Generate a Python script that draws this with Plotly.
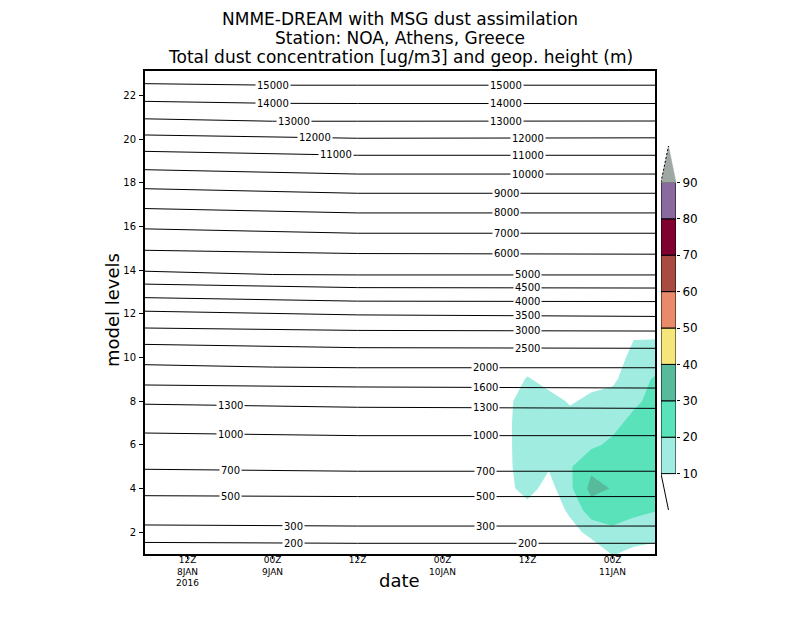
import numpy as np
import pandas as pd
import plotly.graph_objects as go

# time axis and model levels
x_range = ["2016-01-08 06:00", "2016-01-11 06:00"]
tick_times = ["2016-01-08 12:00", "2016-01-09 00:00", "2016-01-09 12:00",
              "2016-01-10 00:00", "2016-01-10 12:00", "2016-01-11 00:00"]
tick_text = ["12Z<br>8JAN<br>2016", "00Z<br>9JAN", "12Z",
             "00Z<br>10JAN", "12Z", "00Z<br>11JAN"]
level_ticks = list(range(2, 23, 2))

# total dust concentration (ug/m3): one profile (model levels 1..12) per time
dust_levels = list(range(1, 13))
dust_times = ["2016-01-10 06:00", "2016-01-10 09:00", "2016-01-10 12:00",
              "2016-01-10 15:00", "2016-01-10 18:00", "2016-01-10 21:00",
              "2016-01-11 00:00", "2016-01-11 03:00", "2016-01-11 06:00"]
dust_profiles = [
    [0, 0, 0, 1, 1, 1, 1, 1, 0, 0, 0, 0],
    [1, 2, 3, 7, 7, 7, 7, 7, 3, 1, 0, 0],
    [0, 2, 6, 14, 17, 18, 18, 16, 11, 3, 0, 0],
    [0, 1, 3, 6, 11, 15, 15, 14, 6, 2, 0, 0],
    [2, 6, 12, 18, 19, 17, 14, 9, 4, 1, 0, 0],
    [3, 13, 25, 33, 28, 18, 16, 12, 7, 2, 0, 0],
    [10.5, 17, 27, 29.5, 26, 22, 17, 14, 8, 3, 1, 0],
    [8, 14, 23, 27, 26, 24, 23, 18, 16, 14, 9, 2],
    [7, 13, 20.5, 25, 26, 25, 24, 23, 21, 15, 9, 2],
]

# geopotential height contours (m): model level where each one sits
hgt_values = [15000, 14000, 13000, 12000, 11000, 10000, 9000, 8000, 7000, 6000,
              5000, 4500, 4000, 3500, 3000, 2500, 2000, 1600, 1300, 1000,
              700, 500, 300, 200]
hgt_times = ["2016-01-08 06:00", "2016-01-09 00:00", "2016-01-09 12:00", "2016-01-11 06:00"]
hgt_levels = [
    [22.54, 22.47, 22.47, 22.47],
    [21.73, 21.64, 21.63, 21.63],
    [20.93, 20.82, 20.82, 20.83],
    [20.19, 20.08, 20.04, 20.06],
    [19.44, 19.32, 19.26, 19.26],
    [18.60, 18.47, 18.40, 18.40],
    [17.73, 17.60, 17.52, 17.52],
    [16.82, 16.70, 16.62, 16.62],
    [15.89, 15.77, 15.69, 15.69],
    [14.91, 14.83, 14.76, 14.73],
    [13.95, 13.80, 13.78, 13.78],
    [13.36, 13.28, 13.20, 13.18],
    [12.74, 12.66, 12.58, 12.56],
    [12.12, 12.02, 11.95, 11.88],
    [11.35, 11.28, 11.24, 11.21],
    [10.60, 10.49, 10.45, 10.42],
    [9.67, 9.56, 9.53, 9.53],
    [8.74, 8.69, 8.65, 8.60],
    [7.86, 7.78, 7.72, 7.67],
    [6.54, 6.47, 6.42, 6.42],
    [4.88, 4.82, 4.79, 4.79],
    [3.67, 3.63, 3.63, 3.63],
    [2.33, 2.28, 2.28, 2.28],
    [1.53, 1.49, 1.49, 1.49],
]
hgt_label_times = [
    ["2016-01-09 00:00", "2016-01-10 09:00"],
    ["2016-01-09 00:00", "2016-01-10 09:00"],
    ["2016-01-09 03:00", "2016-01-10 09:00"],
    ["2016-01-09 06:00", "2016-01-10 12:00"],
    ["2016-01-09 09:00", "2016-01-10 12:00"],
    ["2016-01-10 12:00"],
    ["2016-01-10 09:00"],
    ["2016-01-10 09:00"],
    ["2016-01-10 09:00"],
    ["2016-01-10 09:00"],
    ["2016-01-10 12:00"],
    ["2016-01-10 12:00"],
    ["2016-01-10 12:00"],
    ["2016-01-10 12:00"],
    ["2016-01-10 12:00"],
    ["2016-01-10 12:00"],
    ["2016-01-10 06:00"],
    ["2016-01-10 06:00"],
    ["2016-01-08 18:00", "2016-01-10 06:00"],
    ["2016-01-08 18:00", "2016-01-10 06:00"],
    ["2016-01-08 18:00", "2016-01-10 06:00"],
    ["2016-01-08 18:00", "2016-01-10 06:00"],
    ["2016-01-09 03:00", "2016-01-10 06:00"],
    ["2016-01-09 03:00", "2016-01-10 12:00"],
]

# colour bar
cb_edges = [10, 20, 30, 40, 50, 60, 70, 80, 90]
cb_colors = ["#a0ece1", "#5ae2bb", "#57bb9b", "#f5e67a",
             "#e98a6a", "#a84c41", "#800030", "#8a6a9e"]
cb_top_color = "#a0a8a4"

FONT = "DejaVu Sans"

# stepped colour scale: below 10 transparent, above 90 grey
band_colors = ["rgba(255,255,255,0)"] + cb_colors + [cb_top_color]
nb = len(band_colors)
cscale = []
for i, c in enumerate(band_colors):
    cscale.append([i / nb, c])
    cscale.append([(i + 1) / nb, c])

fig = go.Figure()

fig.add_trace(go.Contour(
    x=dust_times, y=dust_levels, z=np.array(dust_profiles).T,
    contours=dict(start=10, end=100, size=10, coloring="fill", showlines=False),
    colorscale=cscale, showscale=False, line=dict(width=0, smoothing=0),
    hoverinfo="skip",
))

t0 = pd.Timestamp(x_range[0])
def hours(ts):
    return np.array([(pd.Timestamp(t) - t0).total_seconds() / 3600 for t in ts])

h_hours = hours(hgt_times)
annotations = []
for val, lev, lab_t in zip(hgt_values, hgt_levels, hgt_label_times):
    fig.add_trace(go.Scatter(
        x=hgt_times, y=lev, mode="lines",
        line=dict(color="black", width=1),
        showlegend=False, hoverinfo="skip",
    ))
    for t, yl in zip(lab_t, np.interp(hours(lab_t), h_hours, lev)):
        annotations.append(dict(
            x=t, y=yl, xref="x", yref="y", text=str(val), showarrow=False,
            bgcolor="white", borderpad=1,
            font=dict(family=FONT, size=10, color="black"),
        ))

# colour bar drawn as stacked boxes on its own axes
fig.add_trace(go.Bar(
    x=[0] * len(cb_colors), y=np.diff(cb_edges), base=cb_edges[:-1], width=1,
    marker=dict(color=cb_colors, line=dict(color="black", width=1)),
    xaxis="x2", yaxis="y2", showlegend=False, hoverinfo="skip",
))
step = cb_edges[1] - cb_edges[0]
fig.add_trace(go.Scatter(
    x=[-0.5, 0, 0.5, -0.5], y=[cb_edges[-1], cb_edges[-1] + step, cb_edges[-1], cb_edges[-1]],
    fill="toself", fillcolor=cb_top_color, mode="lines",
    line=dict(color=cb_top_color, width=0.5),
    xaxis="x2", yaxis="y2", showlegend=False, hoverinfo="skip",
))
fig.add_trace(go.Scatter(
    x=[-0.5, 0], y=[cb_edges[-1], cb_edges[-1] + step], mode="lines",
    line=dict(color="black", width=1, dash="2px,2px"),
    xaxis="x2", yaxis="y2", showlegend=False, hoverinfo="skip",
))
fig.add_trace(go.Scatter(
    x=[-0.5, 0], y=[cb_edges[0], cb_edges[0] - step], mode="lines",
    line=dict(color="black", width=1),
    xaxis="x2", yaxis="y2", showlegend=False, hoverinfo="skip",
))

# page layout in window pixels (the page body adds an 8 px offset)
OFF = 8
W, H = 800 - OFF, 618 - OFF
ml, mr, mt, mb = 145 - OFF, 120 - OFF, 71 - OFF, 72 - OFF
def px_x(px):
    return (px - OFF - ml) / (W - ml - mr)
def px_y(py):
    return (H - mb - (py - OFF)) / (H - mt - mb)

titles = ["NMME-DREAM with MSG dust assimilation",
          "Station: NOA, Athens, Greece",
          "Total dust concentration [ug/m3] and geop. height (m)"]
for txt, py in zip(titles, [19, 38, 57]):
    annotations.append(dict(
        x=px_x(400), y=px_y(py), xref="paper", yref="paper", text=txt,
        showarrow=False, xanchor="center", yanchor="middle",
        font=dict(family=FONT, size=17, color="black"),
    ))
annotations.append(dict(
    x=px_x(399), y=px_y(580), xref="paper", yref="paper", text="date",
    showarrow=False, xanchor="center", yanchor="middle",
    font=dict(family=FONT, size=18, color="black"),
))
annotations.append(dict(
    x=px_x(112), y=px_y(310), xref="paper", yref="paper", text="model levels",
    showarrow=False, textangle=-90, xanchor="center", yanchor="middle",
    font=dict(family=FONT, size=18, color="black"),
))

fig.update_layout(
    width=W, height=H,
    margin=dict(l=ml, r=mr, t=mt, b=mb, autoexpand=False),
    paper_bgcolor="white", plot_bgcolor="white",
    showlegend=False,
    font=dict(family=FONT, color="black"),
    annotations=annotations,
    xaxis=dict(
        domain=[0, px_x(655)], type="date", range=x_range,
        tickvals=tick_times, ticktext=tick_text, ticks="outside", ticklen=3,
        ticklabelstandoff=-7,
        tickcolor="black", tickfont=dict(size=9), showgrid=False, zeroline=False,
        showline=True, linecolor="black", linewidth=2, mirror=True,
    ),
    yaxis=dict(
        range=[1, 23.12], tickvals=level_ticks, ticks="outside", ticklen=4,
        ticklabelstandoff=1,
        tickcolor="black", tickfont=dict(size=10), showgrid=False, zeroline=False,
        showline=True, linecolor="black", linewidth=2, mirror=True,
    ),
    xaxis2=dict(domain=[px_x(661), px_x(676)], range=[-0.5, 0.5], visible=False,
                anchor="y2"),
    yaxis2=dict(domain=[px_y(510), px_y(146)], range=[0, 100], anchor="x2",
                side="right", tickvals=cb_edges, ticks="outside", ticklen=3,
                tickcolor="black", tickfont=dict(size=12), showgrid=False,
                zeroline=False, showline=False),
)

fig.write_html("out.html")
